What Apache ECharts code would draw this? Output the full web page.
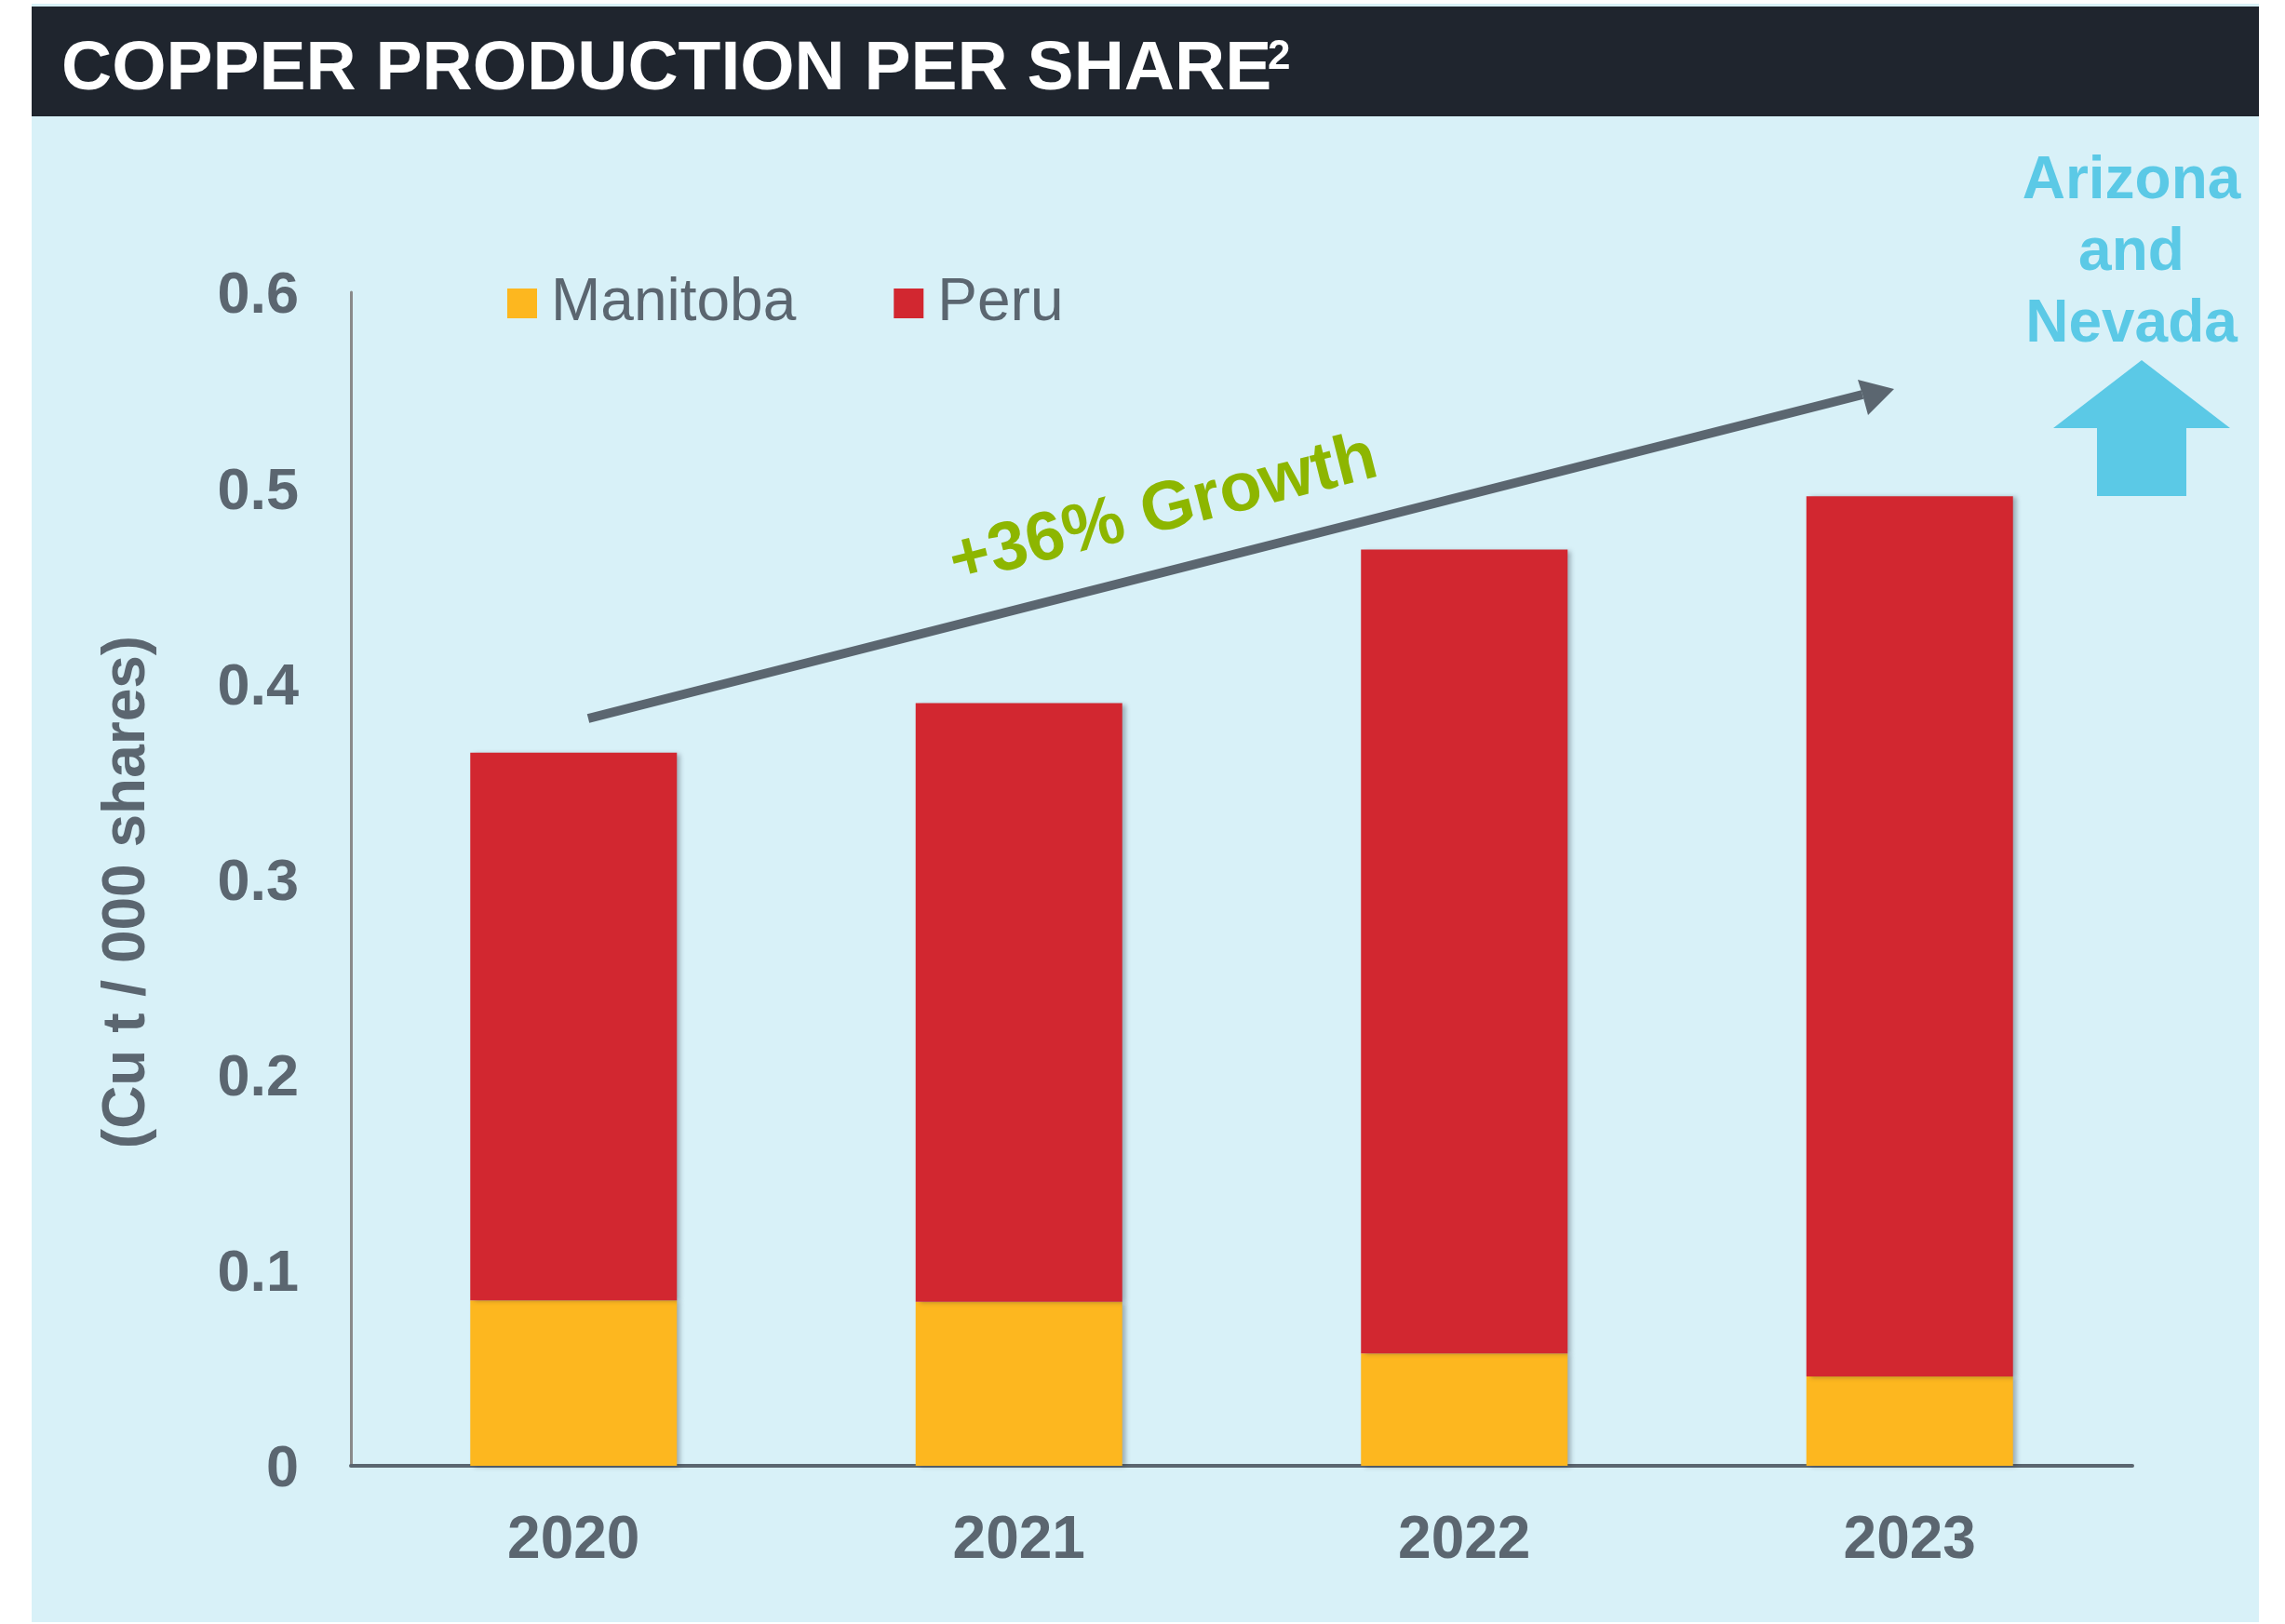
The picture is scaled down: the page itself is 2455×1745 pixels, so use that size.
<!DOCTYPE html>
<html>
<head>
<meta charset="utf-8">
<script src="https://cdn.jsdelivr.net/npm/echarts@6/dist/echarts.min.js"></script>
<style>
  html, body { margin: 0; padding: 0; background: #ffffff; }
  #chart { width: 2455px; height: 1745px; }
</style>
</head>
<body>
<div id="chart"></div>
<script>
// data
const years = ['2020', '2021', '2022', '2023']
const manitoba = [0.0846, 0.0839, 0.0574, 0.0457]
const peru = [0.280, 0.306, 0.411, 0.450]
const yTicks = [0, 0.1, 0.2, 0.3, 0.4, 0.5, 0.6]

const FONT = '"Liberation Sans", Arial, sans-serif'
const GREY = '#5b6670'
const CYAN = '#5bc9e6'

const chart = echarts.init(document.getElementById('chart'))

// growth arrow (annotation, not data)
const arrowStart = [632, 772]
const arrowNotch = [2001, 424]
const arrowHead = [[2035, 418], [1996, 408], [2001, 424], [2007, 446]]

const option = {
  animation: false,
  textStyle: { fontFamily: FONT },
  grid: { left: 377, right: 164, top: 314, bottom: 170 },
  legend: {
    left: 545,
    top: 294,
    padding: 0,
    itemWidth: 32,
    itemHeight: 32,
    itemGap: 105,
    icon: 'rect',
    textStyle: { fontSize: 64, color: GREY, fontFamily: FONT, padding: [0, 0, 0, 10] },
    data: ['Manitoba', 'Peru']
  },
  xAxis: {
    type: 'category',
    data: years,
    axisLine: { lineStyle: { color: GREY, width: 4 } },
    axisTick: { show: false },
    axisLabel: { fontSize: 64, fontWeight: 'bold', color: GREY, margin: 49, fontFamily: FONT }
  },
  yAxis: {
    type: 'value',
    min: yTicks[0],
    max: yTicks[yTicks.length - 1],
    interval: 0.1,
    name: '(Cu t / 000 shares)',
    nameLocation: 'middle',
    nameRotate: 90,
    nameGap: 208,
    nameTextStyle: { fontSize: 64, fontWeight: 'bold', color: GREY, fontFamily: FONT, padding: [0, 28, 0, 0] },
    axisLine: { show: true, lineStyle: { color: '#8a8a8a', width: 3 } },
    axisTick: { show: false },
    splitLine: { show: false },
    axisLabel: {
      margin: 56,
      formatter: '{v|{value}}',
      rich: {
        v: { fontSize: 63, fontWeight: 'bold', color: GREY, fontFamily: FONT, padding: [10, 0, 0, 0] }
      }
    }
  },
  series: [
    {
      name: 'Manitoba',
      type: 'bar',
      stack: 'total',
      data: manitoba,
      barWidth: 222,
      itemStyle: {
        color: '#fdb71f',
        shadowColor: 'rgba(40,50,60,0.35)', shadowBlur: 5, shadowOffsetX: 4, shadowOffsetY: 1
      }
    },
    {
      name: 'Peru',
      type: 'bar',
      stack: 'total',
      data: peru,
      barWidth: 222,
      itemStyle: {
        color: '#d22730',
        shadowColor: 'rgba(40,50,60,0.35)', shadowBlur: 5, shadowOffsetX: 4, shadowOffsetY: 1
      }
    }
  ],
  graphic: [
    // light blue panel
    { type: 'rect', z: -10, shape: { x: 34, y: 4, width: 2393, height: 1739 }, style: { fill: '#d8f1f8' } },
    // title bar
    { type: 'rect', z: -9, shape: { x: 34, y: 7, width: 2393, height: 118 }, style: { fill: '#1f252e' } },
    {
      type: 'text', z: 10, x: 66, y: 75,
      style: { text: 'COPPER PRODUCTION PER SHARE', fill: '#ffffff', font: 'bold 75px ' + FONT, verticalAlign: 'middle' }
    },
    {
      type: 'text', z: 10, x: 1362, y: 62,
      style: { text: '2', fill: '#ffffff', font: 'bold 44px ' + FONT, verticalAlign: 'middle' }
    },
    // growth arrow
    {
      type: 'line', z: 10,
      shape: { x1: arrowStart[0], y1: arrowStart[1], x2: arrowNotch[0], y2: arrowNotch[1] },
      style: { stroke: GREY, lineWidth: 10, lineCap: 'butt' }
    },
    { type: 'polygon', z: 10, shape: { points: arrowHead }, style: { fill: GREY } },
    {
      type: 'text', z: 10, x: 1250, y: 549, rotation: 14.2 * Math.PI / 180,
      style: { text: '+36% Growth', fill: '#8db600', font: 'bold 74px ' + FONT, align: 'center', verticalAlign: 'middle' }
    },
    // Arizona and Nevada callout
    {
      type: 'text', z: 10, x: 2290, y: 157,
      style: {
        text: 'Arizona\nand\nNevada', fill: CYAN, font: 'bold 64px ' + FONT,
        align: 'center', verticalAlign: 'top', lineHeight: 77
      }
    },
    {
      type: 'polygon', z: 10,
      shape: { points: [[2301, 387], [2396, 460], [2349, 460], [2349, 533], [2253, 533], [2253, 460], [2206, 460]] },
      style: { fill: CYAN }
    }
  ]
}

chart.setOption(option)
</script>
</body>
</html>
